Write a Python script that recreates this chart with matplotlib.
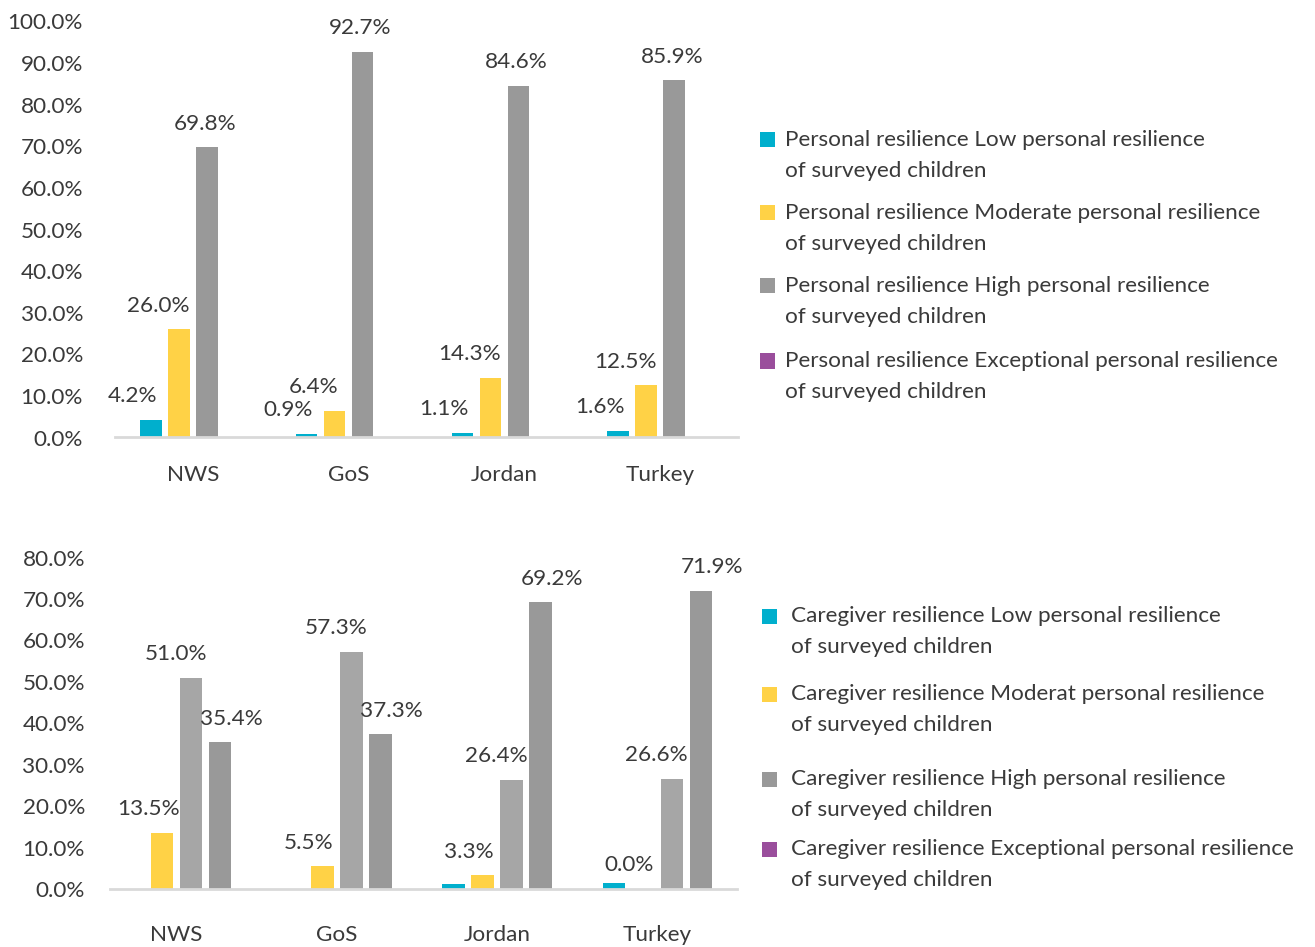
import numpy as np
import matplotlib
matplotlib.use("Agg")
import matplotlib.pyplot as plt
from matplotlib.patches import Rectangle
from matplotlib.ticker import FuncFormatter

countries = ['NWS', 'GoS', 'Jordan', 'Turkey']

# personal resilience of surveyed children (%)
personal_low = [4.2, 0.9, 1.1, 1.6]
personal_moderate = [26.0, 6.4, 14.3, 12.5]
personal_high = [69.8, 92.7, 84.6, 85.9]
personal_exceptional = [0.0, 0.0, 0.0, 0.0]

# caregiver resilience (%)
caregiver_low = [0.0, 0.0, 1.1, 1.5]
caregiver_moderate = [13.5, 5.5, 3.3, 0.0]
caregiver_high = [51.0, 57.3, 26.4, 26.6]
caregiver_exceptional = [35.4, 37.3, 69.2, 71.9]

personal_legend = [
    'Personal resilience Low personal resilience',
    'Personal resilience Moderate personal resilience',
    'Personal resilience High personal resilience',
    'Personal resilience Exceptional personal resilience',
]
caregiver_legend = [
    'Caregiver resilience Low personal resilience',
    'Caregiver resilience Moderat personal resilience',
    'Caregiver resilience High personal resilience',
    'Caregiver resilience Exceptional personal resilience',
]

BLUE = '#00AFCD'
YELLOW = '#FFD246'
GRAY = '#999999'
LGRAY = '#A6A6A6'
PURPLE = '#9A4E9C'
TXT = '#3A3A3A'
FS = 16.2

W, H = 1315, 947
plt.rcParams['font.family'] = ['Lato', 'DejaVu Sans']
fig = plt.figure(figsize=(W / 100, H / 100), dpi=100)


def px(x):
    return x / W


def py(y):
    return 1 - y / H


def style(ax, ymax, pad_y, pad_x):
    ax.set_ylim(0, ymax)
    ax.set_yticks(np.arange(0, ymax + 1, 10))
    ax.yaxis.set_major_formatter(FuncFormatter(lambda v, p: f'{v:.1f}%'))
    ax.set_xticks(range(len(countries)))
    ax.set_xticklabels(countries)
    for s in ['top', 'right', 'left']:
        ax.spines[s].set_visible(False)
    ax.spines['bottom'].set_color('#D9D9D9')
    ax.spines['bottom'].set_linewidth(2)
    ax.tick_params(axis='y', length=0, pad=pad_y, labelsize=FS, labelcolor=TXT)
    ax.tick_params(axis='x', length=0, pad=pad_x, labelsize=FS, labelcolor=TXT)


def label(ax, x, v, dx):
    ax.annotate(f'{v:.1f}%', (x, v), xytext=(dx, 17), textcoords='offset points',
                ha='center', va='center', fontsize=FS, color=TXT)


def legend(items, colors, x_sq, x_txt, ys):
    for text, c, y in zip(items, colors, ys):
        fig.add_artist(Rectangle((px(x_sq), py(y + 7.5)), px(15), 15 / H,
                                 transform=fig.transFigure, color=c, lw=0))
        fig.text(px(x_txt), py(y), text, fontsize=FS, color=TXT, va='center')
        fig.text(px(x_txt), py(y + 31), 'of surveyed children', fontsize=FS, color=TXT, va='center')


x = np.arange(len(countries))

# top chart: personal resilience
ax1 = fig.add_axes([px(115), py(437.5), px(738 - 115), (437.5 - 21.5) / H])
step, bw = 0.18, 0.138
series = [personal_low, personal_moderate, personal_high, personal_exceptional]
colors = [BLUE, YELLOW, GRAY, PURPLE]
for i, (vals, c) in enumerate(zip(series, colors)):
    ax1.bar(x + (i - 1.5) * step, vals, bw, color=c, zorder=2)
for i, dx in zip(range(3), [-13, -15, -1.5]):
    for j, v in enumerate(series[i]):
        label(ax1, x[j] + (i - 1.5) * step, v, dx)
ax1.set_xlim(-0.5, 3.5)
style(ax1, 100, 23, 20)

# bottom chart: caregiver resilience
ax2 = fig.add_axes([px(110), py(889), px(737 - 110), (889 - 557.5) / H])
step, bw = 0.181, 0.14
series = [caregiver_low, caregiver_moderate, caregiver_high, caregiver_exceptional]
colors = [BLUE, YELLOW, LGRAY, GRAY]
for i, (vals, c) in enumerate(zip(series, colors)):
    ax2.bar(x + (i - 1.5) * step, vals, bw, color=c, zorder=2)
for i, dx in zip(range(1, 4), [-10, -11, 8]):
    for j, v in enumerate(series[i]):
        label(ax2, x[j] + (i - 1.5) * step, v, dx)
ax2.set_xlim(-0.415, 3.497)
style(ax2, 80, 18, 26)

legend(personal_legend, [BLUE, YELLOW, GRAY, PURPLE], 760, 785, [140, 213, 286, 361])
legend(caregiver_legend, [BLUE, YELLOW, GRAY, PURPLE], 762, 791, [616, 694, 779, 849])

fig.savefig('out.png', dpi=100, facecolor='white')
